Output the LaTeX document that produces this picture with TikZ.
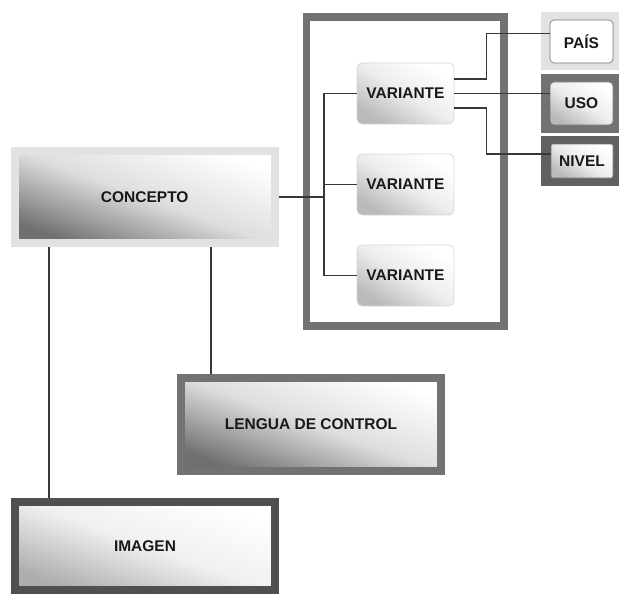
\documentclass[tikz,border=0pt]{standalone}
\usepackage{fontspec}
\setmainfont{Liberation Sans}
\usetikzlibrary{calc}
\definecolor{lightframe}{HTML}{E2E2E2}
\definecolor{midframe}{HTML}{727272}
\definecolor{darkframe}{HTML}{505050}
\definecolor{nivframe}{HTML}{606060}
\definecolor{connc}{HTML}{383838}
\tikzset{
  grad/.style={top color=white, bottom color=black!56, middle color=black!13, shading angle=-20},
  softgrad/.style={top color=white, bottom color=black!27, middle color=black!7, shading angle=-32},
  imggrad/.style={top color=white, bottom color=black!32, middle color=black!6, shading angle=-20},
  lbl/.style={font=\fontsize{15.5}{18}\selectfont\bfseries, text=black!90, inner sep=0pt},
  bigbox/.style={lbl, line width=8pt},
  varbox/.style={lbl, softgrad, draw=black!15, line width=0.8pt, rounded corners=5pt, minimum width=97pt, minimum height=61pt},
  sidebox/.style={lbl, draw=black!55, line width=0.6pt, rounded corners=4pt},
  sideframe/.style={inner sep=0pt, minimum width=78pt},
  conn/.style={draw=connc, line width=1.4pt},
}
\begin{document}
\begin{tikzpicture}[x=1pt, y=-1pt]
\useasboundingbox (0,0) rectangle (619,594);
% main boxes
\node[bigbox, grad, draw=lightframe, minimum width=259.5pt, minimum height=92pt] (concept) at (144.75,197) {CONCEPTO};
\node[bigbox, grad, draw=midframe, minimum width=260pt, minimum height=93pt] (lengua) at (311,424) {LENGUA DE CONTROL};
\node[bigbox, imggrad, draw=darkframe, minimum width=260pt, minimum height=87.5pt] (imagen) at (145,545.75) {IMAGEN};
% variant frame
\node[draw=midframe, fill=white, line width=7.5pt, inner sep=0pt, minimum width=197.5pt, minimum height=309pt] (vframe) at (405.25,171.5) {};
\node[varbox] (v1) at (405.5,93.5) {VARIANTE};
\node[varbox] (v2) at (405.5,184.5) {VARIANTE};
\node[varbox] (v3) at (405.5,275.5) {VARIANTE};
% side frames
\node[sideframe, fill=lightframe, minimum height=58pt] (paisf) at (580,41) {};
\node[sideframe, fill=midframe, minimum height=59pt] (usof) at (580,103.5) {};
\node[sideframe, fill=nivframe, minimum height=50pt] (nivelf) at (580,161) {};
\node[sidebox, fill=white, minimum width=63pt, minimum height=43pt] (pais) at (581.5,41.5) {PAÍS};
\node[sidebox, softgrad, minimum width=63pt, minimum height=43pt] (uso) at (581.5,103.5) {USO};
\node[sidebox, softgrad, rounded corners=2pt, minimum width=62pt, minimum height=34pt] (nivel) at (582,161) {NIVEL};
% connectors
\coordinate (bus) at (324,197);
\draw[conn] (concept.east) -- (concept.east -| bus);
\draw[conn] (v1.west) -| (v3.west -| bus) -- (v3.west);
\draw[conn] (v2.west) -- (v2.west -| bus);
\draw[conn] ($(v1.east)+(0,-14.5)$) -- ++(32,0) |- ($(pais.west)+(0,-8)$);
\draw[conn] (v1.east) -- (v1.east -| uso.west);
\draw[conn] ($(v1.east)+(0,14.5)$) -- ++(32,0) |- ($(nivel.west)+(0,-7)$);
\draw[conn] (concept.south -| 49,0) -- (imagen.north -| 49,0);
\draw[conn] (concept.south -| 211,0) -- (lengua.north -| 211,0);
\end{tikzpicture}
\end{document}
